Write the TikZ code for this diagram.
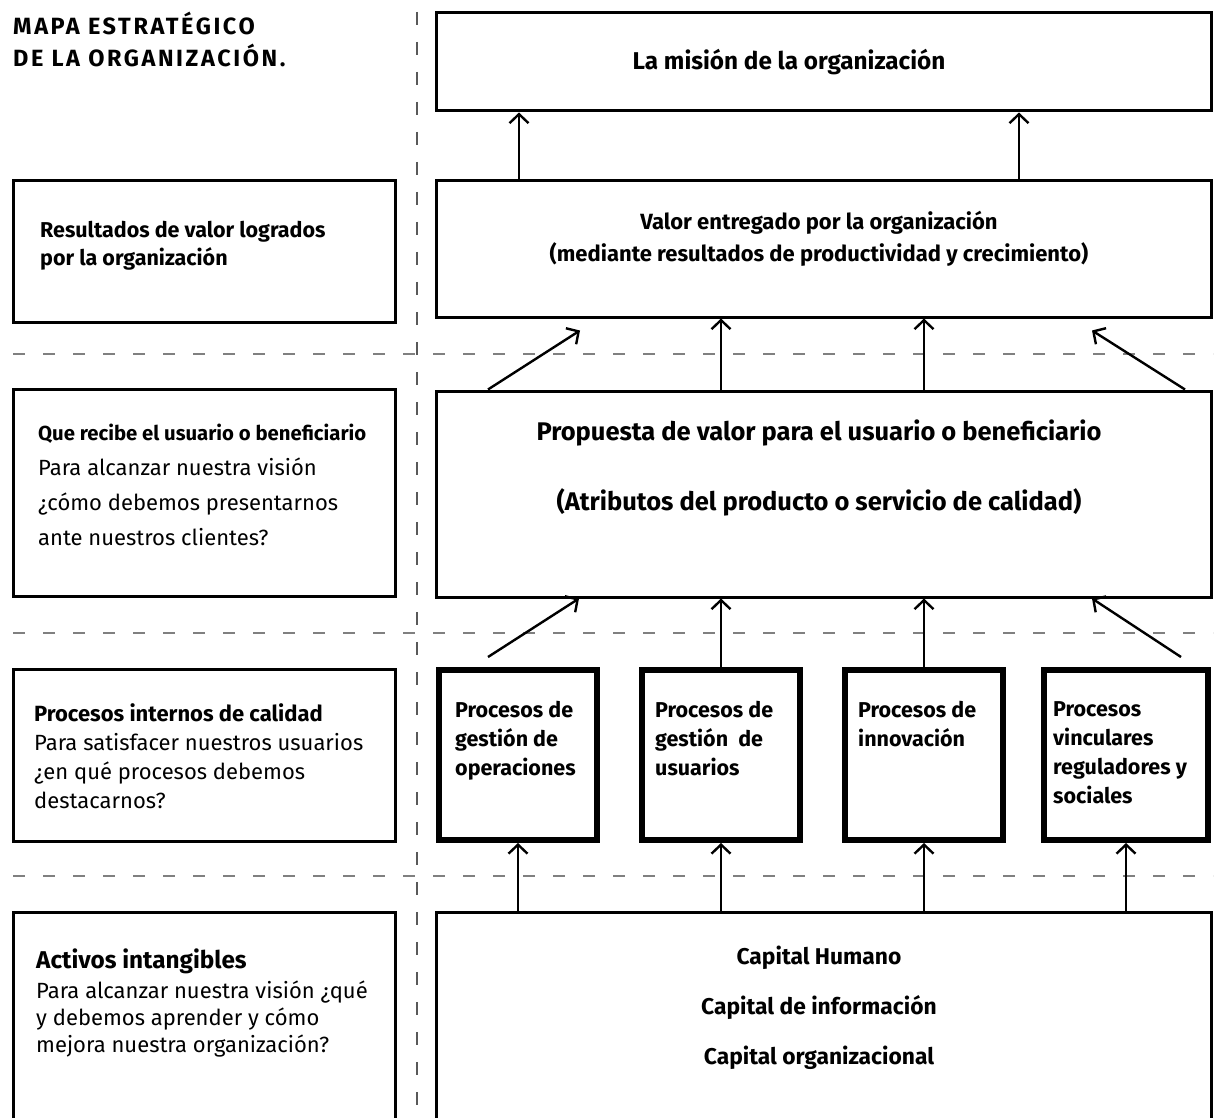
\documentclass[tikz,border=0pt]{standalone}
\usepackage{fontspec}
\setmainfont{Fira Sans}
\usetikzlibrary{arrows.meta,calc}

\tikzset{
  box/.style={draw, line width=3pt, inner sep=0pt},
  procbox/.style={draw, line width=6pt, inner sep=0pt, minimum width=158pt, minimum height=170pt},
  arr/.style={line width=2.4pt, -{Straight Barb[length=9pt,width=19pt]}},
  hsep/.style={gray, line width=1.4pt, dash pattern=on 12pt off 18pt},
  vsep/.style={black!65, line width=1.4pt, dash pattern=on 13pt off 17pt},
  ltext/.style={anchor=west, align=left, inner sep=0pt, font=\fontsize{22}{#1}\selectfont},
  ctext/.style 2 args={align=center, inner sep=0pt, font=\fontsize{#1}{#2}\selectfont\bfseries},
  ptext/.style={anchor=north west, align=left, inner sep=0pt, font=\fontsize{21.5}{29}\selectfont\bfseries}
}

\begin{document}
\begin{tikzpicture}[x=1pt,y=-1pt]
\useasboundingbox (0,0) rectangle (1224,1118);

% separadores
\draw[vsep] (417,12) -- (417,1118);
\foreach \y in {354,633,876}
  \draw[hsep] (13,\y) -- (1213,\y);

% columna derecha
\node[box, minimum width=775pt, minimum height=98pt] (mis) at (824,62) {};
\node[box, minimum width=775pt, minimum height=136pt] (valor) at (824,249) {};
\node[box, minimum width=775pt, minimum height=206pt] (prop) at (824,494) {};
\node[procbox] (p1) at (518,755) {};
\node[procbox] (p2) at (721,755) {};
\node[procbox] (p3) at (924,755) {};
\node[procbox, minimum width=164pt] (p4) at (1126,755) {};
\node[box, minimum width=775pt, minimum height=240pt] (cap) at (824,1032) {};

% columna izquierda
\node[box, minimum width=382pt, minimum height=141pt] (res) at (204.5,251.5) {};
\node[box, minimum width=382pt, minimum height=207pt] (que) at (204.5,492.5) {};
\node[box, minimum width=382pt, minimum height=172pt] (pin) at (204.5,755) {};
\node[box, minimum width=382pt, minimum height=240pt] (act) at (204.5,1032) {};

% textos
\node[anchor=west, align=left, inner sep=0pt,
  font=\fontsize{23.5}{32}\selectfont\bfseries\addfontfeature{LetterSpace=11}]
  (titulo) at (13,39) {MAPA ESTRATÉGICO\\DE LA ORGANIZACIÓN.};
\node[ltext=28, font=\fontsize{21.5}{28}\selectfont\bfseries] (tres) at (40,246)
  {Resultados de valor logrados\\por la organización};
\node[ltext=35] (tque) at (38,485)
  {{\fontsize{20.3}{35}\selectfont\bfseries Que recibe el usuario o beneficiario}\\Para alcanzar nuestra visión\\¿cómo debemos presentarnos\\ante nuestros clientes?};
\node[ltext=29] (tpin) at (34,756)
  {\textbf{Procesos internos de calidad}\\Para satisfacer nuestros usuarios\\¿en qué procesos debemos\\destacarnos?};
\node[ltext=27] (tact) at (36,1003)
  {{\fontsize{24.3}{27}\selectfont\bfseries Activos intangibles}\\[3pt]Para alcanzar nuestra visión ¿qué\\y debemos aprender y cómo\\mejora nuestra organización?};

\node[ctext={24.3}{30}] (tmis) at (789,62) {La misión de la organización};
\node[ctext={22}{32}] (tvalor) at (819,239)
  {Valor entregado por la organización\\(mediante resultados de productividad y crecimiento)};
\node[ctext={25.5}{70}] (tprop) at (819,468)
  {Propuesta de valor para el usuario o beneficiario\\(Atributos del producto o servicio de calidad)};
\node[ptext] (tp1) at (455,701) {Procesos de\\gestión de\\operaciones};
\node[ptext] (tp2) at (655,701) {Procesos de\\gestión\ \ de\\usuarios};
\node[ptext] (tp3) at (858,701) {Procesos de\\innovación};
\node[ptext] (tp4) at (1053,701) {Procesos\\vinculares\\reguladores y\\sociales};
\node[ctext={22.8}{50}] (tcap) at (819,1008)
  {Capital Humano\\Capital de información\\Capital organizacional};

% flechas
\draw[arr] (519,0 |- valor.north) -- (519,0 |- mis.south);
\draw[arr] (1019,0 |- valor.north) -- (1019,0 |- mis.south);
\draw[arr] (488,0 |- prop.north) -- ($(580,0 |- valor.south)+(0,12)$);
\draw[arr] (p2 |- prop.north) -- (p2 |- valor.south);
\draw[arr] (p3 |- prop.north) -- (p3 |- valor.south);
\draw[arr] (1185,0 |- prop.north) -- ($(1092,0 |- valor.south)+(0,12)$);
\draw[arr] ($(488,0 |- p1.north)+(0,-10)$) -- (579,0 |- prop.south);
\draw[arr] (p2.north) -- (p2 |- prop.south);
\draw[arr] (p3.north) -- (p3 |- prop.south);
\draw[arr] ($(1181,0 |- p4.north)+(0,-10)$) -- (1092,0 |- prop.south);
\foreach \p in {p1,p2,p3,p4}
  \draw[arr] (\p |- cap.north) -- (\p.south);
\end{tikzpicture}
\end{document}
